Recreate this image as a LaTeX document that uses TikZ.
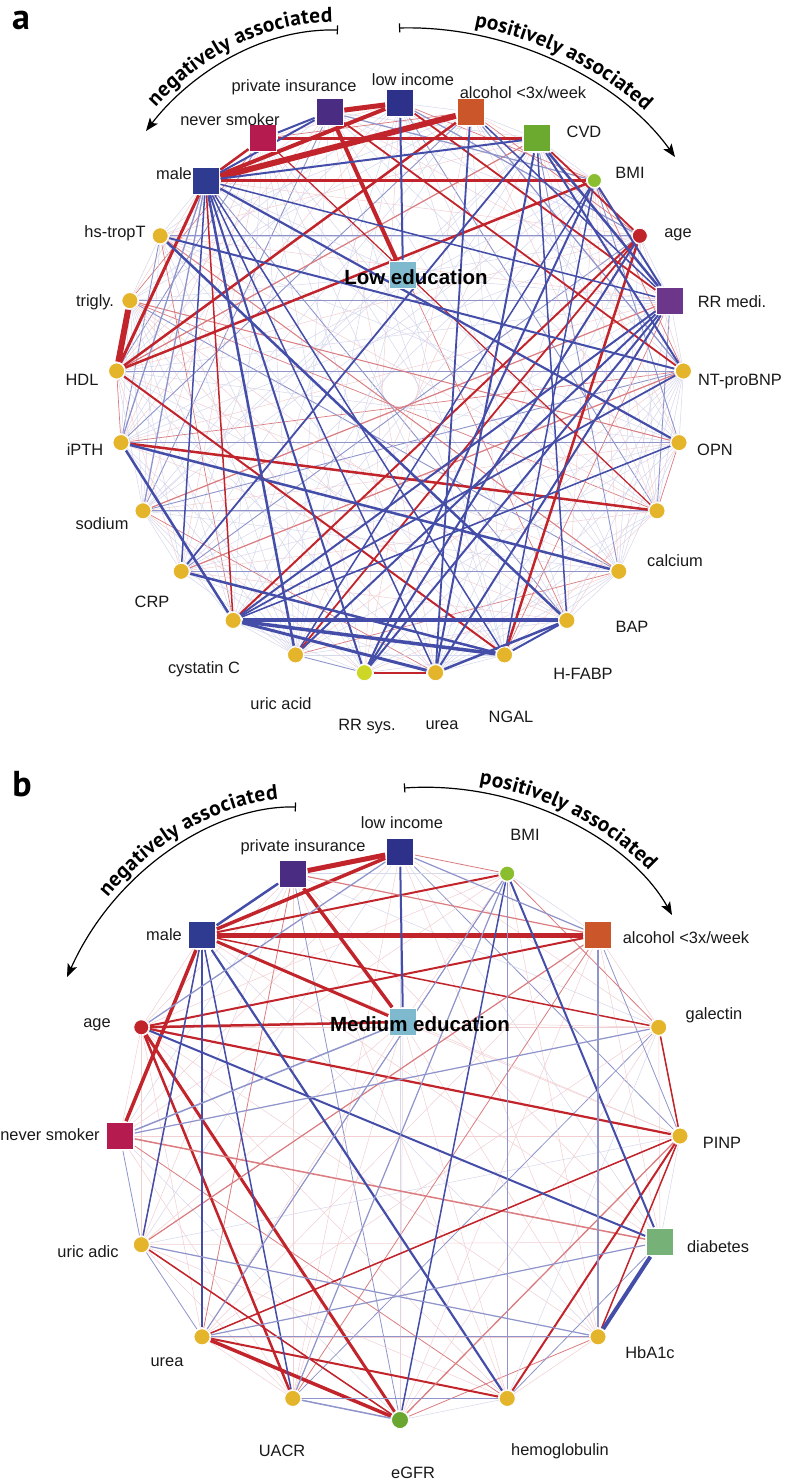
\documentclass[tikz,border=0pt]{standalone}
\usepackage{fontspec}
\setmainfont{Liberation Sans}
\newfontfamily\arcfont{PT Sans}
\usetikzlibrary{decorations.text,arrows.meta}
\pgfdeclarelayer{bg}
\pgfsetlayers{bg,main}
\definecolor{edR}{RGB}{194,36,44}
\definecolor{edB}{RGB}{68,78,168}
\definecolor{cYel}{RGB}{228,180,42}
\definecolor{cLow}{RGB}{45,49,138}
\definecolor{cMale}{RGB}{47,58,145}
\definecolor{cPriv}{RGB}{74,45,131}
\definecolor{cNev}{RGB}{182,27,80}
\definecolor{cAlc}{RGB}{202,86,42}
\definecolor{cCVD}{RGB}{107,170,46}
\definecolor{cBMI}{RGB}{139,190,46}
\definecolor{cAge}{RGB}{192,36,42}
\definecolor{cRRm}{RGB}{108,55,138}
\definecolor{cRRs}{RGB}{205,216,38}
\definecolor{cEdu}{RGB}{127,185,206}
\definecolor{cDia}{RGB}{118,178,120}
\definecolor{cEGFR}{RGB}{106,166,48}
\begin{document}
\begin{tikzpicture}[x=1pt,y=-1pt,
  sq/.style={rectangle,minimum size=27pt,inner sep=0pt,draw=white,line width=0.8pt},
  cir/.style={circle,minimum size=16pt,inner sep=0pt,draw=white,line width=0.8pt},
  lbl/.style={font=\fontsize{16.4}{19}\selectfont,inner sep=0pt,text=black!90},
  ctr/.style={font=\bfseries\fontsize{20.5}{22}\selectfont,inner sep=0pt},
  pan/.style={font=\arcfont\bfseries\fontsize{36}{36}\selectfont,inner sep=0pt},
  eR/.style={draw=edR,line width=#1,shorten <=1pt,shorten >=1pt},
  eB/.style={draw=edB,line width=#1,shorten <=1pt,shorten >=1pt},
  mR/.style={draw=edR!60,line width=#1,shorten <=1pt,shorten >=1pt},
  mB/.style={draw=edB!60,line width=#1,shorten <=1pt,shorten >=1pt},
  fR/.style={draw=edR!22,line width=0.5pt},
  fB/.style={draw=edB!22,line width=0.5pt},
  arcline/.style={line width=1.2pt,{Bar[width=9pt,line width=1.2pt]}-{Stealth[length=13pt,width=10pt,inset=3pt]}},
  arctext/.style={decorate,decoration={text along path,text format delimiters={|}{|},
     text={|\arcfont\bfseries\fontsize{21.3}{22}\selectfont|#1},raise=8pt}}
]
\useasboundingbox (0,0) rectangle (785,1482);

% ---------------- panel a nodes ----------------
\node[pan] (pa) at (21,20) {a};
\node[sq,fill=cLow] (a0) at (400,103) {};
\node[sq,fill=cPriv] (a1) at (329.4,112.0) {};
\node[sq,fill=cNev] (a2) at (263.2,138.4) {};
\node[sq,fill=cMale] (a3) at (205.6,180.5) {};
\node[cir,fill=cYel] (a4) at (160.2,235.8) {};
\node[cir,fill=cYel] (a5) at (129.9,300.6) {};
\node[cir,fill=cYel] (a6) at (116.6,371.0) {};
\node[cir,fill=cYel] (a7) at (121.0,442.6) {};
\node[cir,fill=cYel] (a8) at (143.0,510.8) {};
\node[cir,fill=cYel] (a9) at (181.2,571.3) {};
\node[cir,fill=cYel] (a10) at (233.1,620.4) {};
\node[cir,fill=cYel] (a11) at (295.5,654.9) {};
\node[cir,fill=cRRs] (a12) at (364.4,672.7) {};
\node[cir,fill=cYel] (a13) at (435.6,672.7) {};
\node[cir,fill=cYel] (a14) at (504.5,654.9) {};
\node[cir,fill=cYel] (a15) at (566.9,620.4) {};
\node[cir,fill=cYel] (a16) at (618.8,571.3) {};
\node[cir,fill=cYel] (a17) at (657.0,510.8) {};
\node[cir,fill=cYel] (a18) at (679.0,442.6) {};
\node[cir,fill=cYel] (a19) at (683.4,371.0) {};
\node[sq,fill=cRRm] (a20) at (670.1,300.6) {};
\node[cir,fill=cAge,minimum size=15pt] (a21) at (639.8,235.8) {};
\node[cir,fill=cBMI,minimum size=14pt] (a22) at (594.4,180.5) {};
\node[sq,fill=cCVD] (a23) at (536.8,138.4) {};
\node[sq,fill=cAlc] (a24) at (470.6,112.0) {};
\node[sq,fill=cEdu] (ca) at (403,275) {};

\node[lbl] (la0) at (413,80) {low income};
\node[lbl] (la1) at (294,87) {private insurance};
\node[lbl] (la2) at (230,120) {never smoker};
\node[lbl] (la3) at (174,174) {male};
\node[lbl] (la4) at (115,233) {hs-tropT};
\node[lbl] (la5) at (95,302) {trigly.};
\node[lbl] (la6) at (82,380) {HDL};
\node[lbl] (la7) at (85,450) {iPTH};
\node[lbl] (la8) at (102,524) {sodium};
\node[lbl] (la9) at (152,602) {CRP};
\node[lbl] (la10) at (204,669) {cystatin C};
\node[lbl] (la11) at (281,704) {uric acid};
\node[lbl] (la12) at (367,727) {RR sys.};
\node[lbl] (la13) at (442,725) {urea};
\node[lbl] (la14) at (511,717) {NGAL};
\node[lbl] (la15) at (583,674) {H-FABP};
\node[lbl] (la16) at (632,627) {BAP};
\node[lbl] (la17) at (675,561) {calcium};
\node[lbl] (la18) at (715,450) {OPN};
\node[lbl] (la19) at (740,382) {NT-proBNP};
\node[lbl] (la20) at (732,302) {RR medi.};
\node[lbl] (la21) at (678,235) {age};
\node[lbl] (la22) at (630,173) {BMI};
\node[lbl] (la23) at (584,132) {CVD};
\node[lbl] (la24) at (523,93) {alcohol <3x/week};
\node[ctr] (lca) at (416,277) {Low education};

% ---------------- panel b nodes ----------------
\node[pan] (pb) at (22,784) {b};
\node[sq,fill=cLow] (b0) at (400,852) {};
\node[sq,fill=cPriv] (b1) at (292.8,873.6) {};
\node[sq,fill=cMale] (b2) at (202.0,935.2) {};
\node[cir,fill=cAge,minimum size=15pt] (b3) at (141.3,1027.3) {};
\node[sq,fill=cNev] (b4) at (120,1136) {};
\node[cir,fill=cYel] (b5) at (141.3,1244.7) {};
\node[cir,fill=cYel] (b6) at (202.0,1336.8) {};
\node[cir,fill=cYel] (b7) at (292.8,1398.4) {};
\node[cir,fill=cEGFR,minimum size=17pt] (b8) at (400,1420) {};
\node[cir,fill=cYel] (b9) at (507.2,1398.4) {};
\node[cir,fill=cYel] (b10) at (598.0,1336.8) {};
\node[sq,fill=cDia] (b11) at (660,1242) {};
\node[cir,fill=cYel] (b12) at (680,1136) {};
\node[cir,fill=cYel] (b13) at (658.7,1027.3) {};
\node[sq,fill=cAlc] (b14) at (598.0,935.2) {};
\node[cir,fill=cBMI,minimum size=15pt] (b15) at (507.2,873.6) {};
\node[sq,fill=cEdu] (cb) at (403,1022) {};

\node[lbl] (lb0) at (402,823) {low income};
\node[lbl] (lb1) at (303,847) {private insurance};
\node[lbl] (lb2) at (164,935) {male};
\node[lbl] (lb3) at (97,1025) {age};
\node[lbl] (lb4) at (50,1135) {never smoker};
\node[lbl] (lb5) at (88,1252) {uric adic};
\node[lbl] (lb6) at (167,1362) {urea};
\node[lbl] (lb7) at (282,1451) {UACR};
\node[lbl] (lb8) at (413,1473) {eGFR};
\node[lbl] (lb9) at (560,1451) {hemoglobulin};
\node[lbl] (lb10) at (650,1353) {HbA1c};
\node[lbl] (lb11) at (718,1247) {diabetes};
\node[lbl] (lb12) at (722,1143) {PINP};
\node[lbl] (lb13) at (714,1015) {galectin};
\node[lbl] (lb14) at (686,938) {alcohol <3x/week};
\node[lbl] (lb15) at (525,835) {BMI};
\node[ctr] (lcb) at (420,1024) {Medium education};

% ---------------- arcs ----------------
\draw[arcline] (338,30) .. controls (255,28) and (185,80) .. (146,131);
\path[arctext={negatively associated},decoration={text align={left indent=24pt}}]
  (146,131) .. controls (185,80) and (255,28) .. (338,30) -- (380,31);
\draw[arcline] (399,28) .. controls (510,25) and (620,80) .. (675,157);
\path[arctext={positively associated},decoration={text align={left indent=74pt}}]
  (399,28) .. controls (510,25) and (620,80) .. (675,157) -- (695,185);
\draw[arcline] (296,807) .. controls (215,805) and (115,870) .. (67,977);
\path[arctext={negatively associated},decoration={text align={left indent=88pt}}]
  (67,977) .. controls (115,870) and (215,805) .. (296,807) -- (340,808);
\draw[arcline] (404,788) .. controls (520,780) and (630,840) .. (672,915);
\path[arctext={positively associated},decoration={text align={left indent=74pt}}]
  (404,788) .. controls (520,780) and (630,840) .. (672,915) -- (690,945);

% ---------------- edges ----------------
\begin{pgfonlayer}{bg}
\fill[white] (0,0) rectangle (785,1482);
% panel a faint mesh
\foreach \i in {0,...,23}{
  \pgfmathtruncatemacro\ii{\i+1}
  \foreach \j in {\ii,...,24}{
    \pgfmathtruncatemacro\h{mod(\i*37+\j*23+\i*\j*7,19)}
    \ifnum\h<8 \draw[fB] (a\i)--(a\j);\fi
    \ifnum\h>7 \ifnum\h<11 \draw[fR] (a\i)--(a\j);\fi\fi
    \ifnum\h=11 \draw[mB=0.9pt] (a\i)--(a\j);\fi
    \ifnum\h=12 \draw[mR=0.7pt] (a\i)--(a\j);\fi
  }}
\foreach \k in {2,3,5,8,11,14,17,20,21,23} {\draw[fB] (ca)--(a\k);}
% panel a medium
\draw[mB=1.2pt] (a4)--(a21);
\draw[mB=1.2pt] (a5)--(a20);
\draw[mB=1pt] (a6)--(a19);
\draw[mB=1.2pt] (a7)--(a18);
\draw[mB=1pt] (a8)--(a17);
\draw[mB=1.5pt] (a9)--(a16);
\draw[mR=1.2pt] (a8)--(a20);
\draw[mR=1.2pt] (a9)--(a19);
\draw[mR=1pt] (a4)--(a16);
\draw[mR=1pt] (a5)--(a18);
\draw[mR=1.2pt] (a23)--(a6);
\draw[mB=1.3pt] (a3)--(a8);
\draw[mB=1.3pt] (a3)--(a7);
\draw[mB=1.2pt] (a24)--(a19);
\draw[mB=1.2pt] (a0)--(a21);
\draw[mB=1.2pt] (a1)--(a22);
% panel a strong red
\draw[eR=5pt] (a1)--(a0);
\draw[eR=4pt] (a3)--(a0);
\draw[eR=6pt] (a3)--(a24);
\draw[eR=6pt] (a5)--(a6);
\draw[eR=4pt] (a1)--(ca);
\draw[eR=2.5pt] (a3)--(a2);
\draw[eR=2.5pt] (a2)--(a23);
\draw[eR=2.5pt] (a3)--(a22);
\draw[eR=3pt] (a6)--(a3);
\draw[eR=2.5pt] (a6)--(a24);
\draw[eR=2.5pt] (a6)--(a22);
\draw[eR=2pt] (a6)--(a14);
\draw[eR=2.5pt] (a7)--(a17);
\draw[eR=2.5pt] (a14)--(a21);
\draw[eR=2pt] (a10)--(a21);
\draw[eR=1.8pt] (a11)--(a21);
\draw[eR=1.8pt] (a12)--(a13);
\draw[eR=1.8pt] (a0)--(a20);
\draw[eR=1.8pt] (a1)--(a19);
\draw[eR=1.8pt] (a23)--(a21);
\draw[eR=1.5pt] (a3)--(a10);
\draw[eR=1.2pt] (a2)--(a17);
% panel a strong blue
\draw[eB=2pt] (a0)--(ca);
\draw[eB=2pt] (a3)--(a23);
\draw[eB=2.2pt] (a3)--(a18);
\draw[eB=2pt] (a4)--(a19);
\draw[eB=2.5pt] (a7)--(a10);
\draw[eB=2.5pt] (a7)--(a16);
\draw[eB=4pt] (a10)--(a15);
\draw[eB=3.5pt] (a10)--(a14);
\draw[eB=3pt] (a10)--(a13);
\draw[eB=2.5pt] (a13)--(a15);
\draw[eB=2pt] (a14)--(a15);
\draw[eB=2.5pt] (a9)--(a14);
\draw[eB=2.5pt] (a3)--(a11);
\draw[eB=2pt] (a3)--(a12);
\draw[eB=2.5pt] (a4)--(a15);
\draw[eB=2pt] (a23)--(a13);
\draw[eB=2pt] (a20)--(a13);
\draw[eB=1.5pt] (a23)--(a15);
\draw[eB=2.5pt] (a23)--(a20);
\draw[eB=2pt] (a23)--(a19);
\draw[eB=2pt] (a22)--(a20);
\draw[eB=1.5pt] (a24)--(a20);
\draw[eB=2pt] (a20)--(a10);
\draw[eB=2pt] (a20)--(a11);
\draw[eB=1.8pt] (a19)--(a10);
\draw[eB=1.5pt] (a18)--(a10);
\draw[eB=2pt] (a20)--(a12);
\draw[eB=2pt] (a21)--(a12);
\draw[eB=1.5pt] (a22)--(a11);
\draw[eB=1.5pt] (a3)--(a20);
\draw[eB=1.5pt] (a3)--(a9);
\draw[eB=1.5pt] (a3)--(a13);
\draw[eB=1.5pt] (a3)--(a14);
\draw[eB=2pt] (a2)--(a1);
\draw[eB=2pt] (a3)--(a1);
\draw[eB=1.8pt] (a24)--(a13);
\draw[eB=1.8pt] (a23)--(a9);
\draw[eB=2pt] (a22)--(a12);
\draw[eB=1.5pt] (a22)--(a14);

% panel b faint mesh
\foreach \i in {0,...,14}{
  \pgfmathtruncatemacro\ii{\i+1}
  \foreach \j in {\ii,...,15}{
    \pgfmathtruncatemacro\h{mod(\i*31+\j*17+\i*\j*3,13)}
    \ifnum\h<5 \draw[fR] (b\i)--(b\j);\fi
    \ifnum\h>4 \ifnum\h<8 \draw[fB] (b\i)--(b\j);\fi\fi
    \ifnum\h=8 \draw[mR=0.8pt] (b\i)--(b\j);\fi
    \ifnum\h=9 \draw[mB=0.8pt] (b\i)--(b\j);\fi
  }}
\foreach \k in {5,6,7,8,9,10,12,13,15} {\draw[fR] (cb)--(b\k);}
% panel b red
\draw[eR=5pt] (b1)--(b0);
\draw[eR=3.5pt] (b2)--(b0);
\draw[eR=5pt] (b2)--(b14);
\draw[eR=3.5pt] (b1)--(cb);
\draw[eR=3pt] (b2)--(cb);
\draw[eR=2pt] (b15)--(b2);
\draw[eR=2pt] (b14)--(b3);
\draw[eR=2.5pt] (b3)--(cb);
\draw[eR=2.2pt] (b3)--(b12);
\draw[eR=3pt] (b3)--(b8);
\draw[eR=2.5pt] (b3)--(b7);
\draw[eR=3.5pt] (b4)--(b2);
\draw[mR=1.5pt] (b4)--(b11);
\draw[eR=3.5pt] (b6)--(b8);
\draw[eR=2pt] (b6)--(b9);
\draw[eR=1.5pt] (b5)--(b8);
\draw[eR=1.5pt] (b12)--(b6);
\draw[eR=2pt] (b12)--(b9);
\draw[eR=1.5pt] (b12)--(b10);
\draw[mR=1.3pt] (b12)--(b8);
\draw[eR=1.5pt] (b12)--(b13);
\draw[eR=1.5pt] (b13)--(b2);
\draw[mR=1.2pt] (b1)--(b14);
\draw[mR=1.2pt] (b14)--(b5);
% panel b blue
\draw[eB=2pt] (b0)--(cb);
\draw[eB=2.5pt] (b1)--(b2);
\draw[eB=1.5pt] (b2)--(b6);
\draw[eB=1.5pt] (b2)--(b5);
\draw[eB=1.5pt] (b2)--(b7);
\draw[eB=2.2pt] (b2)--(b9);
\draw[eB=2pt] (b3)--(b11);
\draw[eB=2pt] (b15)--(b11);
\draw[mB=1.5pt] (b4)--(cb);
\draw[mB=1.3pt] (b14)--(b10);
\draw[mB=1pt] (b15)--(b9);
\draw[eB=4pt] (b11)--(b10);
\draw[mB=1.5pt] (b7)--(b8);
\draw[mB=1.2pt] (b7)--(b9);
\draw[mB=1.2pt] (b6)--(b10);
\draw[mB=1.2pt] (b15)--(b7);
\draw[eB=1.5pt] (b15)--(b8);
\draw[mB=1pt] (b15)--(b6);
\draw[mB=1.2pt] (b0)--(b14);
\draw[mB=1.3pt] (b0)--(b3);
\draw[mB=1.2pt] (b5)--(b10);
\draw[mB=1.2pt] (b6)--(b11);
\draw[mB=1.2pt] (b4)--(b13);
\end{pgfonlayer}
\end{tikzpicture}
\end{document}
